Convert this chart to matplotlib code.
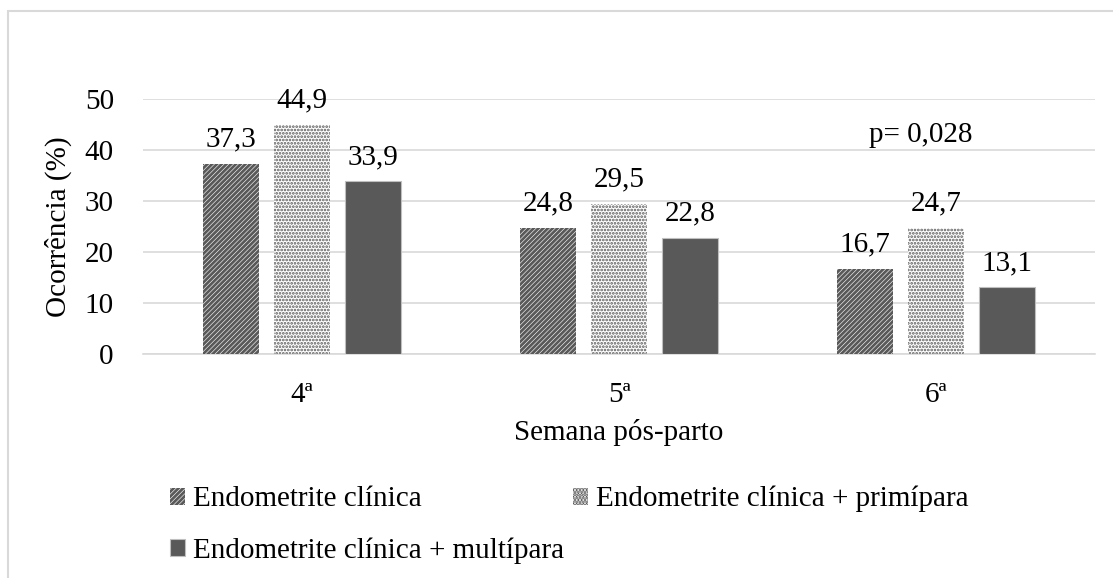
import matplotlib
matplotlib.use("Agg")
import matplotlib.pyplot as plt
from matplotlib.patches import Rectangle
import numpy as np

plt.rcParams['font.family'] = ['Liberation Serif', 'DejaVu Serif']
plt.rcParams['hatch.linewidth'] = 2.0

categories = ["4ª", "5ª", "6ª"]
series_names = ["Endometrite clínica", "Endometrite clínica + primípara", "Endometrite clínica + multípara"]
clinica = [37.3, 24.8, 16.7]
primipara = [44.9, 29.5, 24.7]
multipara = [33.9, 22.8, 13.1]
y_ticks = [0, 10, 20, 30, 40, 50]
annotation = "p= 0,028"

FS = 21

fig = plt.figure(figsize=(11.13, 5.78), dpi=100)
ax = fig.add_axes([143/1113, 1-354/578, (1095-143)/1113, (354-99)/578])

# outer chart border
fig.patches.append(Rectangle((8/1113, -0.1), 1.2, 1.1 - 11/578, transform=fig.transFigure,
                             fill=False, edgecolor='#d9d9d9', linewidth=1.5, zorder=0))

x = np.arange(len(categories))
w = 0.176
off = 0.224
dark = '#595959'

b1 = ax.bar(x - off, clinica, w, color='white', edgecolor=dark, hatch='///////', linewidth=0, zorder=3)
b2 = ax.bar(x, primipara, w, color='white', edgecolor=dark, hatch='.....', linewidth=0, zorder=3)
b3 = ax.bar(x + off, multipara, w, color=dark, edgecolor='#bfbfbf', linewidth=0.8, zorder=3)
for r in b2:
    r.set_hatch_linewidth(1.3)

for bars, vals in [(b1, clinica), (b2, primipara), (b3, multipara)]:
    for rect, v in zip(bars, vals):
        ax.text(rect.get_x() + rect.get_width()/2, v + 2.2, f"{v:.1f}".replace('.', ','),
                ha='center', va='bottom', fontsize=FS)

ax.text(1.95, 43, annotation, ha='center', va='center', fontsize=FS)

ax.set_xlim(-0.5, 2.5)
ax.set_ylim(0, 50)
ax.set_yticks(y_ticks)
ax.set_yticklabels([str(t) for t in y_ticks], fontsize=FS)
ax.set_xticks(x)
ax.set_xticklabels(categories, fontsize=FS)
ax.tick_params(axis='x', length=0, pad=20)
ax.tick_params(axis='y', length=0, pad=21)
ax.yaxis.grid(True, color='#d9d9d9', linewidth=1.2, zorder=0)
for s in ['top', 'right', 'left']:
    ax.spines[s].set_visible(False)
ax.spines['bottom'].set_color('#d9d9d9')
ax.spines['bottom'].set_linewidth(1.2)

ax.set_ylabel("Ocorrência (%)", fontsize=FS)
ax.yaxis.set_label_coords((72-143)/952, 0.5)
ax.set_xlabel("Semana pós-parto", fontsize=FS, labelpad=8)

leg = fig.legend([b1, b3, b2], [series_names[0], series_names[2], series_names[1]],
                 ncol=2, loc='upper left', bbox_to_anchor=(170/1113, 1-486/578),
                 frameon=False, fontsize=FS, handlelength=0.52, handleheight=0.52,
                 handletextpad=0.28, columnspacing=0.28, labelspacing=0.85,
                 borderpad=0, borderaxespad=0)

fig.savefig("out.png", dpi=100)
